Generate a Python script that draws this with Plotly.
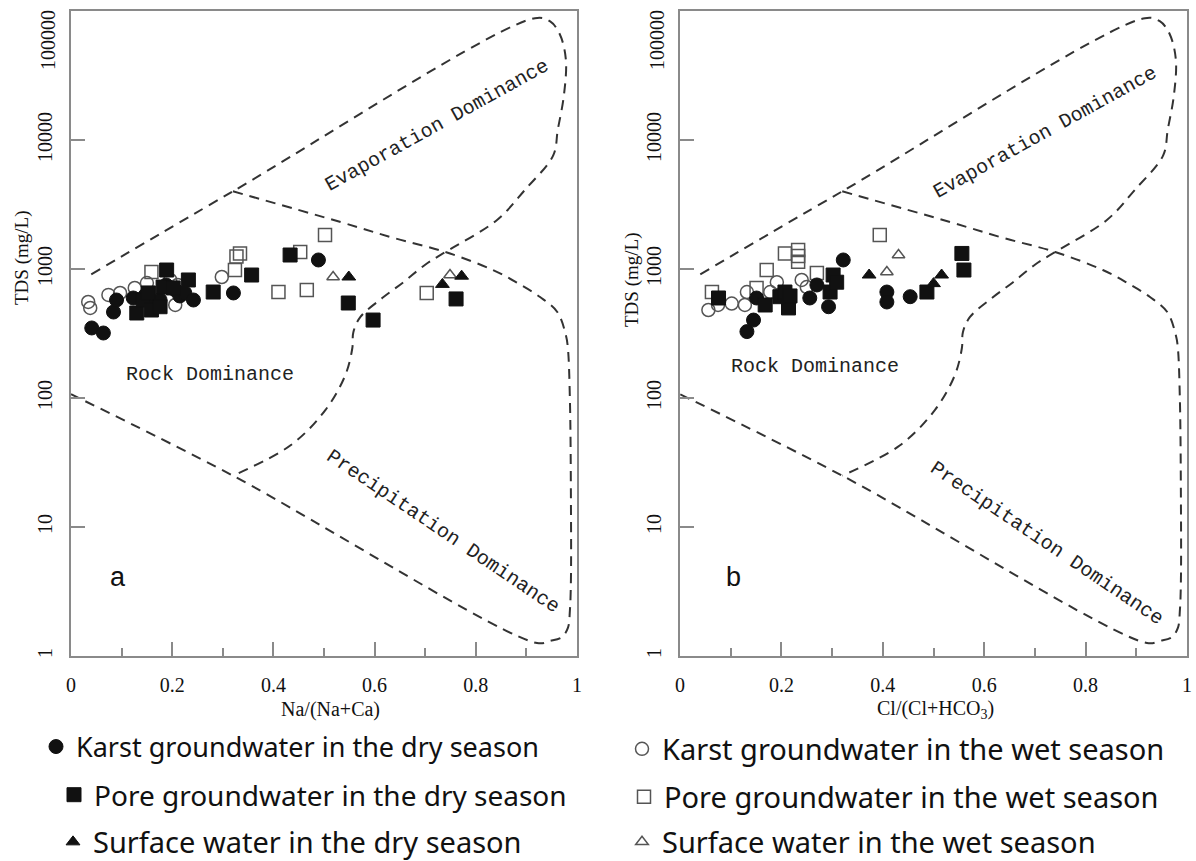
import math
import plotly.graph_objects as go

W, H = 1196, 861

# ---------------- data: panel a  (Na/(Na+Ca) vs TDS) ----------------
a_karst_dry_x = [0.041, 0.064, 0.084, 0.090, 0.123, 0.146, 0.168, 0.176, 0.188, 0.206, 0.215, 0.225, 0.242, 0.321, 0.489]
a_karst_dry_y = [349, 319, 464, 575, 596, 618, 526, 575, 752, 688, 618, 652, 575, 652, 1175]

a_pore_dry_x = [0.130, 0.143, 0.153, 0.159, 0.176, 0.182, 0.189, 0.202, 0.232, 0.281, 0.357, 0.433, 0.548, 0.597, 0.761]
a_pore_dry_y = [456, 575, 652, 481, 510, 725, 982, 713, 822, 663, 898, 1284, 545, 402, 586]

a_surf_dry_x = [0.549, 0.734, 0.772]
a_surf_dry_y = [867, 760, 880]

a_karst_wet_x = [0.034, 0.038, 0.074, 0.097, 0.126, 0.150, 0.156, 0.196, 0.206, 0.211, 0.298]
a_karst_wet_y = [555, 499, 630, 652, 713, 778, 575, 822, 526, 752, 867]

a_pore_wet_x = [0.159, 0.324, 0.327, 0.334, 0.410, 0.453, 0.466, 0.502, 0.703]
a_pore_wet_y = [948, 982, 1250, 1320, 663, 1355, 688, 1835, 652]

a_surf_wet_x = [0.518, 0.749]
a_surf_wet_y = [867, 898]

# ---------------- data: panel b  (Cl/(Cl+HCO3) vs TDS) ----------------
b_karst_dry_x = [0.132, 0.145, 0.151, 0.256, 0.270, 0.293, 0.322, 0.408, 0.408, 0.454]
b_karst_dry_y = [327, 402, 596, 596, 752, 510, 1175, 663, 555, 610]

b_pore_dry_x = [0.076, 0.168, 0.197, 0.207, 0.214, 0.217, 0.296, 0.302, 0.309, 0.487, 0.556, 0.560]
b_pore_dry_y = [596, 526, 610, 663, 499, 618, 663, 898, 790, 663, 1320, 982]

b_surf_dry_x = [0.373, 0.500, 0.516]
b_surf_dry_y = [898, 770, 898]

b_karst_wet_x = [0.056, 0.075, 0.102, 0.128, 0.132, 0.178, 0.191, 0.240, 0.250]
b_karst_wet_y = [481, 526, 540, 526, 663, 663, 790, 822, 725]

b_pore_wet_x = [0.063, 0.151, 0.171, 0.207, 0.233, 0.233, 0.233, 0.270, 0.394]
b_pore_wet_y = [663, 713, 982, 1320, 1404, 1260, 1140, 930, 1835]

b_surf_wet_x = [0.408, 0.431]
b_surf_wet_y = [948, 1284]

# ---------------- Gibbs boundary curves (same template for both panels) ----------------
# upper-kink branch -> right edge -> bottom tip -> lower outer line
curveA_x = [0.32, 0.533, 0.637, 0.740, 0.834, 0.882, 0.927, 0.961, 0.978, 0.982, 0.986, 0.988,
            0.988, 0.986, 0.982, 0.970, 0.947, 0.921, 0.32, 0.0]
curveA_y = [4000, 2310, 1745, 1355, 982, 780, 606, 464, 307, 244, 96, 16,
            3.9, 2.27, 1.65, 1.40, 1.31, 1.26, 25, 107]
# upper outer line -> top tip -> inner return -> lower-kink branch
curveB_x = [0.04, 0.32, 0.917, 0.947, 0.966, 0.978, 0.974, 0.962, 0.953, 0.897, 0.842, 0.740,
            0.700, 0.657, 0.615, 0.572, 0.558, 0.556, 0.542, 0.503, 0.434, 0.32]
curveB_y = [910, 4000, 88000, 83000, 66000, 42000, 22000, 12000, 7600, 4100, 2400, 1355,
            1080, 790, 595, 425, 324, 244, 150, 81, 43, 25]

x_ticks = [0, 0.2, 0.4, 0.6, 0.8, 1]
y_ticks = [1, 10, 100, 1000, 10000, 100000]
y_ticktext = ["1", "10", "100", "1000", "10000", ""]
top_label = "100000"

series_names = [
    "Karst groundwater in the dry season",
    "Pore groundwater in the dry season",
    "Surface water in the dry season",
    "Karst groundwater in the wet season",
    "Pore groundwater in the wet season",
    "Surface water in the wet season",
]

# ---------------- figure ----------------
def px(x):
    return x / W

def py(y):
    return 1 - y / H

fig = go.Figure()

line_style = dict(color="#333333", width=2, dash="10px,7px")
for xa, ya in (("x", "y"), ("x2", "y2")):
    fig.add_trace(go.Scatter(x=curveA_x, y=curveA_y, mode="lines", line=line_style,
                             line_shape="spline", showlegend=False, hoverinfo="skip", xaxis=xa, yaxis=ya))
    fig.add_trace(go.Scatter(x=curveB_x, y=curveB_y, mode="lines", line=line_style,
                             line_shape="spline", showlegend=False, hoverinfo="skip", xaxis=xa, yaxis=ya))

open_style = {
    3: ("circle-open", 13),
    4: ("square-open", 13),
    5: ("triangle-up-open", 11),
}
filled_style = {
    0: ("circle", 14),
    1: ("square", 14),
    2: ("triangle-up", 12),
}

panel_a = [(a_karst_dry_x, a_karst_dry_y), (a_pore_dry_x, a_pore_dry_y), (a_surf_dry_x, a_surf_dry_y),
           (a_karst_wet_x, a_karst_wet_y), (a_pore_wet_x, a_pore_wet_y), (a_surf_wet_x, a_surf_wet_y)]
panel_b = [(b_karst_dry_x, b_karst_dry_y), (b_pore_dry_x, b_pore_dry_y), (b_surf_dry_x, b_surf_dry_y),
           (b_karst_wet_x, b_karst_wet_y), (b_pore_wet_x, b_pore_wet_y), (b_surf_wet_x, b_surf_wet_y)]

legend_ids = ["legend", "legend2", "legend3", "legend4", "legend5", "legend6"]

order = [3, 4, 5, 0, 1, 2]
for idx in order:
    if idx in open_style:
        sym, size = open_style[idx]
        marker = dict(symbol=sym, size=size, color="#555555", line=dict(color="#555555", width=1.5))
    else:
        sym, size = filled_style[idx]
        marker = dict(symbol=sym, size=size, color="#111111", line=dict(color="#111111", width=1))
    for pi, (panel, xa, ya) in enumerate(((panel_a, "x", "y"), (panel_b, "x2", "y2"))):
        xs, ys = panel[idx]
        fig.add_trace(go.Scatter(
            x=xs, y=ys, mode="markers", marker=marker, name=series_names[idx],
            showlegend=(pi == 0), legend=legend_ids[idx], xaxis=xa, yaxis=ya))

serif = "Liberation Serif, Times New Roman, serif"
mono = "Liberation Mono, Courier New, monospace"
sans = "Noto Sans, Liberation Sans, Arial, sans-serif"

tick_font = dict(family=serif, size=20, color="#111")
axis_common = dict(showline=True, mirror=True, linecolor="#8a8a8a", linewidth=2,
                   showgrid=False, zeroline=False, ticks="inside", tickcolor="#8a8a8a",
                   tickwidth=1.5, tickfont=tick_font, automargin=False)

xdom1 = [px(71), px(577)]
xdom2 = [px(680), px(1187)]
ydom = [py(656), py(11)]

xaxis_common = dict(range=[0, 1], tickvals=x_ticks, ticklen=14, ticklabelstandoff=10,
                    minor=dict(dtick=0.1, ticks="inside", ticklen=8, tickcolor="#8a8a8a"), **axis_common)
yaxis_common = dict(type="log", range=[0, 5], tickvals=y_ticks, ticktext=y_ticktext,
                    tickangle=-90, ticklen=14, ticklabelstandoff=9, **axis_common)

fig.update_layout(
    width=W, height=H, margin=dict(l=0, r=0, t=0, b=0, autoexpand=False),
    paper_bgcolor="white", plot_bgcolor="white",
    xaxis=dict(domain=xdom1, anchor="y", **xaxis_common),
    xaxis2=dict(domain=xdom2, anchor="y2", **xaxis_common),
    yaxis=dict(domain=ydom, anchor="x", **yaxis_common),
    yaxis2=dict(domain=ydom, anchor="x2", **yaxis_common),
)

annotations = []
# axis titles
annotations.append(dict(xref="paper", yref="paper", x=px(330), y=py(709), xanchor="center", yanchor="middle",
                        text="Na/(Na+Ca)", showarrow=False, font=dict(family=serif, size=20, color="#111")))
annotations.append(dict(xref="paper", yref="paper", x=px(935), y=py(709), xanchor="center", yanchor="middle",
                        text="Cl/(Cl+HCO<sub>3</sub>)", showarrow=False,
                        font=dict(family=serif, size=20, color="#111")))
annotations.append(dict(xref="paper", yref="paper", x=px(22), y=py(258), xanchor="center", yanchor="middle",
                        text="TDS (mg/L)", textangle=-90, showarrow=False,
                        font=dict(family=serif, size=19, color="#111")))
annotations.append(dict(xref="paper", yref="paper", x=px(632), y=py(280), xanchor="center", yanchor="middle",
                        text="TDS (mg/L)", textangle=-90, showarrow=False,
                        font=dict(family=serif, size=19, color="#111")))
# top y tick labels (shifted inside the page as in the reference)
for xpix in (48, 657):
    annotations.append(dict(xref="paper", yref="paper", x=px(xpix), y=py(40), xanchor="center",
                            yanchor="middle", text=top_label, textangle=-90, showarrow=False,
                            font=tick_font))

# region labels
for xr, yr, ex, ey, pxx, pyy, rx, ry, lx, ly, letter in (
        ("x", "y", 0.723, 13000, 0.735, 9.2, 0.275, 153, 0.093, 4.1, "a"),
        ("x2", "y2", 0.72, 11500, 0.724, 7.5, 0.266, 174, 0.105, 4.1, "b")):
    annotations.append(dict(xref=xr, yref=yr, x=ex, y=math.log10(ey),
                            text="Evaporation Dominance", textangle=-29, showarrow=False,
                            font=dict(family=mono, size=20, color="#222")))
    annotations.append(dict(xref=xr, yref=yr, x=pxx, y=math.log10(pyy),
                            text="Precipitation Dominance", textangle=34, showarrow=False,
                            font=dict(family=mono, size=20, color="#222")))
    annotations.append(dict(xref=xr, yref=yr, x=rx, y=math.log10(ry),
                            text="Rock Dominance", showarrow=False,
                            font=dict(family=mono, size=20, color="#222")))
    annotations.append(dict(xref=xr, yref=yr, x=lx, y=math.log10(ly),
                            text=letter, showarrow=False,
                            font=dict(family="Liberation Sans, Arial, sans-serif", size=27, color="#111")))

fig.update_layout(annotations=annotations)

# legends: one per series, positioned like the reference
legend_pos = {
    "legend": (36, 747, 27),
    "legend2": (54, 795, 28),
    "legend3": (53, 842, 29),
    "legend4": (622, 749, 29),
    "legend5": (624, 797, 29),
    "legend6": (622, 842, 29),
}
for lid, (lx, ly, fs) in legend_pos.items():
    fig.update_layout({lid: dict(x=px(lx), y=py(ly), xanchor="left", yanchor="middle",
                                 orientation="v", bgcolor="rgba(0,0,0,0)", borderwidth=0,
                                 itemwidth=30,
                                 font=dict(family=sans, size=fs, color="#111"))})

fig.write_html("out.html")
